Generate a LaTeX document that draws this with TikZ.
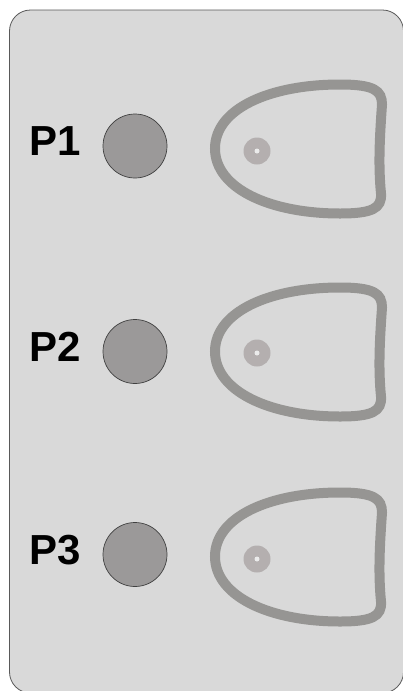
\documentclass[tikz,border=0pt]{standalone}
\usepackage{fontspec}
\newfontfamily\labelfont{Liberation Sans}
\usepackage{tikz}

\definecolor{panelfill}{HTML}{D9D9D9}
\definecolor{padfill}{HTML}{9B9999}
\definecolor{cupline}{HTML}{969593}
\definecolor{dotfill}{HTML}{B4AFAF}

\tikzset{
	pad/.style={circle,draw=black!75,line width=0.7pt,fill=padfill,minimum size=64pt,inner sep=0pt},
	plabel/.style={anchor=west,inner sep=0pt,font=\labelfont\bfseries\fontsize{42}{48}\selectfont},
	cup/.style={draw=cupline,line width=10pt},
	spot/.style={circle,fill=dotfill,minimum size=27pt,inner sep=0pt}
}

\begin{document}
\begin{tikzpicture}[x=1pt,y=-1pt]
							\useasboundingbox (0,0) rectangle (403,691);
							\draw[fill=panelfill,draw=black!65,line width=0.8pt,rounded corners=21pt] (9.5,10) rectangle (403.5,693);

							\foreach \i/\cy/\sy/\dy in {1/146/148.5/151,2/351.5/351.5/353,3/554.5/556.5/559}{
								\node[plabel] (p\i) at (29,\cy-4.5) {P\i};
								\node[pad] (c\i) at (135,\cy) {};
								\draw[cup,shift={(0,\sy)}] (215,0) .. controls (215,-40) and (270,-64) .. (340,-64)
									.. controls (374,-64) and (382,-58) .. (382,-44)
									.. controls (380,-15) and (378,15) .. (381,45)
									.. controls (382,60) and (372,65) .. (340,65)
									.. controls (270,65) and (215,40) .. (215,0) -- cycle;
								\node[spot] (d\i) at (257,\dy) {};
								\fill[black!8] (d\i) circle (2.5pt);
							}

						\end{tikzpicture}
\end{document}
